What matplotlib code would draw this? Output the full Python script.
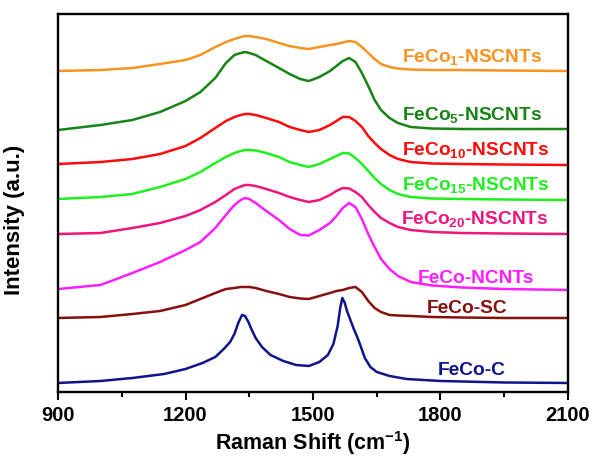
import matplotlib
matplotlib.use("Agg")
import matplotlib.pyplot as plt
from matplotlib.ticker import MultipleLocator

plt.rcParams["font.family"] = ["Liberation Sans", "DejaVu Sans"]
plt.rcParams["font.weight"] = "bold"
plt.rcParams["mathtext.fontset"] = "custom"
plt.rcParams["mathtext.rm"] = "Liberation Sans:bold"
plt.rcParams["mathtext.bf"] = "Liberation Sans:bold"
plt.rcParams["mathtext.it"] = "Liberation Sans:bold"
plt.rcParams["mathtext.default"] = "bf"

# Raman shift grid (cm^-1) shared by the broad spectra
shift = [900, 1000, 1075, 1140, 1200, 1235, 1270, 1295, 1315, 1330, 1340, 1350,
         1365, 1390, 1420, 1445, 1470, 1490, 1515, 1540, 1555, 1570, 1585, 1600,
         1615, 1630, 1645, 1660, 1680, 1700, 1730, 1780, 1850, 1950, 2100]

# stacked intensities (a.u., offset for display)
feco1 = [321, 322, 324, 328, 332, 337, 345, 350, 353, 355, 356, 356, 355, 353,
         349, 346, 344, 343, 345, 347, 348, 349.5, 351, 350, 345, 339, 333, 328,
         325, 323.5, 322.5, 322, 322, 321.5, 321]
feco5 = [262, 267, 272, 280, 291, 300, 314, 329, 337, 339, 340, 339, 337, 331,
         324, 318, 313, 311, 315, 321, 326, 331, 334, 330, 319, 306, 292, 282,
         274, 269, 265, 263.5, 263, 263, 263]
feco10 = [228, 230, 233, 238, 246, 254, 264, 271, 275, 277, 278, 278, 277, 274,
          270, 265, 262, 260, 262, 267, 271, 275, 275, 271, 265, 256, 249, 243,
          237, 233, 230, 228.5, 228, 227.5, 227]
feco15 = [193, 195, 198, 205, 213, 220, 229, 235, 239, 241, 242, 242, 241.5, 239,
          235, 230, 227, 225, 228, 233, 236, 239, 238.5, 234, 228, 221, 214, 208,
          202, 198, 195, 193.5, 193, 192.5, 192]
feco20 = [158, 159, 164, 169, 176, 182, 190, 197, 203, 205.5, 207, 207, 206, 203,
          199, 195, 192, 190, 192, 197, 201, 204, 203.5, 200, 195, 187, 180, 174,
          169, 165, 162, 160, 159, 158.5, 158]
feco_ncnts = [103, 107, 119, 130, 142, 150, 164, 177, 187, 192, 194, 193, 189, 181,
              172, 163, 157, 156.5, 162, 169, 176, 184, 189, 185, 173, 158, 145,
              133, 123, 116, 110, 106.5, 104.5, 103, 102]
feco_sc = [74, 75, 78, 81, 87, 93, 99, 103, 104, 105, 105, 105, 104, 101, 98, 95,
           93.5, 93, 96, 99, 101, 102, 104, 105, 100, 91, 84, 80, 77, 76.5, 76,
           75, 74.5, 74, 74]

# FeCo-C has sharp D and G bands, sampled on a finer grid
shift_c = [900, 1000, 1075, 1150, 1200, 1240, 1270, 1290, 1305, 1315, 1325, 1333,
           1340, 1348, 1356, 1365, 1380, 1400, 1430, 1460, 1490, 1515, 1535, 1548,
           1558, 1564, 1569, 1574, 1580, 1588, 1596, 1604, 1612, 1622, 1635, 1650,
           1680, 1720, 1800, 1950, 2100]
feco_c = [9, 11, 14, 18, 23, 29, 35, 43, 50, 58, 70, 77, 76, 70, 62, 54, 45, 37,
          31, 27, 26, 30, 37, 48, 66, 84, 94, 90, 81, 72, 63, 55, 46, 34, 25, 20,
          16, 13, 11, 9.5, 9]

labels = [r"FeCo$_{1}$-NSCNTs", r"FeCo$_{5}$-NSCNTs", r"FeCo$_{10}$-NSCNTs",
          r"FeCo$_{15}$-NSCNTs", r"FeCo$_{20}$-NSCNTs", "FeCo-NCNTs", "FeCo-SC",
          "FeCo-C"]
colors = ["#F7931E", "#168516", "#FF0A0A", "#1EF01E", "#F0147F", "#FF1EFF",
          "#86100F", "#10148A"]
label_x = [1709, 1709, 1709, 1709, 1707, 1747, 1768, 1794]
label_y = [330, 272, 237, 202, 168, 109, 79, 17]

fig = plt.figure(figsize=(5.97, 4.61), dpi=100)
ax = fig.add_axes([0.0972, 0.1497, 0.8542, 0.8199])

series = [(shift, feco1), (shift, feco5), (shift, feco10), (shift, feco15),
          (shift, feco20), (shift, feco_ncnts), (shift, feco_sc), (shift_c, feco_c)]
for (xs, ys), c in zip(series, colors):
    ax.plot(xs, ys, color=c, lw=1.8, solid_joinstyle="round")

for t, c, tx, ty in zip(labels, colors, label_x, label_y):
    ax.text(tx, ty, t, color=c, fontsize=13.8, fontweight="bold",
            ha="left", va="baseline")

ax.set_xlim(900, 2100)
ax.set_ylim(0, 378)
ax.xaxis.set_major_locator(MultipleLocator(300))
ax.xaxis.set_minor_locator(MultipleLocator(150))
ax.set_yticks([])
ax.tick_params(axis="x", which="major", direction="out", length=6, width=1.5,
               labelsize=14.5, pad=4)
ax.tick_params(axis="x", which="minor", direction="out", length=3.5, width=1.5)
for sp in ax.spines.values():
    sp.set_linewidth(1.7)

ax.set_xlabel(r"Raman Shift (cm$^{-1}$)", fontsize=15.5, fontweight="bold", labelpad=3)
ax.set_ylabel("Intensity (a.u.)", fontsize=16, fontweight="bold")
ax.yaxis.set_label_coords(-0.065, 0.455)

fig.savefig("out.png", dpi=100)
